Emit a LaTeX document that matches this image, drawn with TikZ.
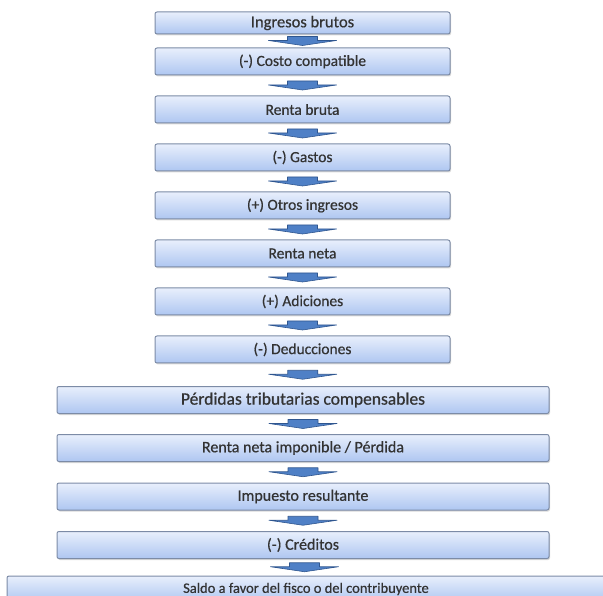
\documentclass[tikz,border=0pt]{standalone}
\usepackage{fontspec}
\setmainfont{Carlito}[FakeBold=0.6]
\usetikzlibrary{calc,shadows}

\definecolor{boxtop}{HTML}{E8EFFC}
\definecolor{boxbot}{HTML}{AEC6F1}
\definecolor{boxline}{HTML}{7C8BA6}
\definecolor{txtgray}{HTML}{333333}
\definecolor{arrowdark}{HTML}{2F568F}
\definecolor{arrowmid}{HTML}{4F80C6}

\begin{document}
\begin{tikzpicture}[
  x=1pt, y=-1pt,
  paso/.style={draw=boxline, line width=1pt, rounded corners=2pt,
    top color=boxtop, bottom color=boxbot, text=txtgray,
    minimum height=27pt, inner sep=0pt, font=\fontsize{15.5}{17}\selectfont,
    drop shadow={opacity=0.3, shadow xshift=1pt, shadow yshift=-1.5pt}},
  corto/.style={paso, minimum width=295pt},
  largo/.style={paso, minimum width=492pt, font=\fontsize{16}{18}\selectfont},
  flecha/.pic={
    \draw[arrowdark, fill=arrowmid, line width=0.6pt, line join=round]
      (-15,-4.5) -- (15,-4.5) -- (15,-0.5) -- (34,-0.5) -- (0,4.5)
      -- (-34,-0.5) -- (-15,-0.5) -- cycle;
  }
]
\useasboundingbox (0,0) rectangle (603,596);
\clip (0,0) rectangle (603,596);

\node [corto, minimum height=22pt, font=\fontsize{16.5}{18}\selectfont] (ing)
  at (302.5,23) {Ingresos brutos};
\node [corto] (costo) at (302.5,61.5) {(-) Costo compatible};
\node [corto] (rbruta) at (302.5,109.5) {Renta bruta};
\node [corto] (gastos) at (302.5,157.5) {(-) Gastos};
\node [corto] (otros) at (302.5,205.5) {(+) Otros ingresos};
\node [corto] (rneta) at (302.5,253.5) {Renta neta};
\node [corto] (adic) at (302.5,301.5) {(+) Adiciones};
\node [corto] (deduc) at (302.5,349.5) {(-) Deducciones};

\node [largo, font=\fontsize{17.5}{19}\selectfont] (perd) at (303,400)
  {Pérdidas tributarias compensables};
\node [largo] (rimp) at (303,448) {Renta neta imponible / Pérdida};
\node [largo] (impto) at (303,496.5) {Impuesto resultante};
\node [largo] (cred) at (303,545) {(-) Créditos};
\node [paso, minimum width=598pt, minimum height=26pt,
  font=\fontsize{14.5}{16}\selectfont] (saldo) at (306,589)
  {Saldo a favor del fisco o del contribuyente};

% flechas entre pasos
\pic at ($(ing.south)!0.5!(costo.north)$) {flecha};
\pic at ($(costo.south)!0.5!(rbruta.north)$) {flecha};
\pic at ($(rbruta.south)!0.5!(gastos.north)$) {flecha};
\pic at ($(gastos.south)!0.5!(otros.north)$) {flecha};
\pic at ($(otros.south)!0.5!(rneta.north)$) {flecha};
\pic at ($(rneta.south)!0.5!(adic.north)$) {flecha};
\pic at ($(adic.south)!0.5!(deduc.north)$) {flecha};
\pic at ($(deduc.south)!0.5!(perd.north)$) {flecha};
\pic at ($(perd.south)!0.5!(rimp.north)$) {flecha};
\pic at ($(rimp.south)!0.5!(impto.north)$) {flecha};
\pic at ($(impto.south)!0.5!(cred.north)$) {flecha};
\pic at ($(cred.south)!0.5!(saldo.north)$) {flecha};
\end{tikzpicture}
\end{document}
